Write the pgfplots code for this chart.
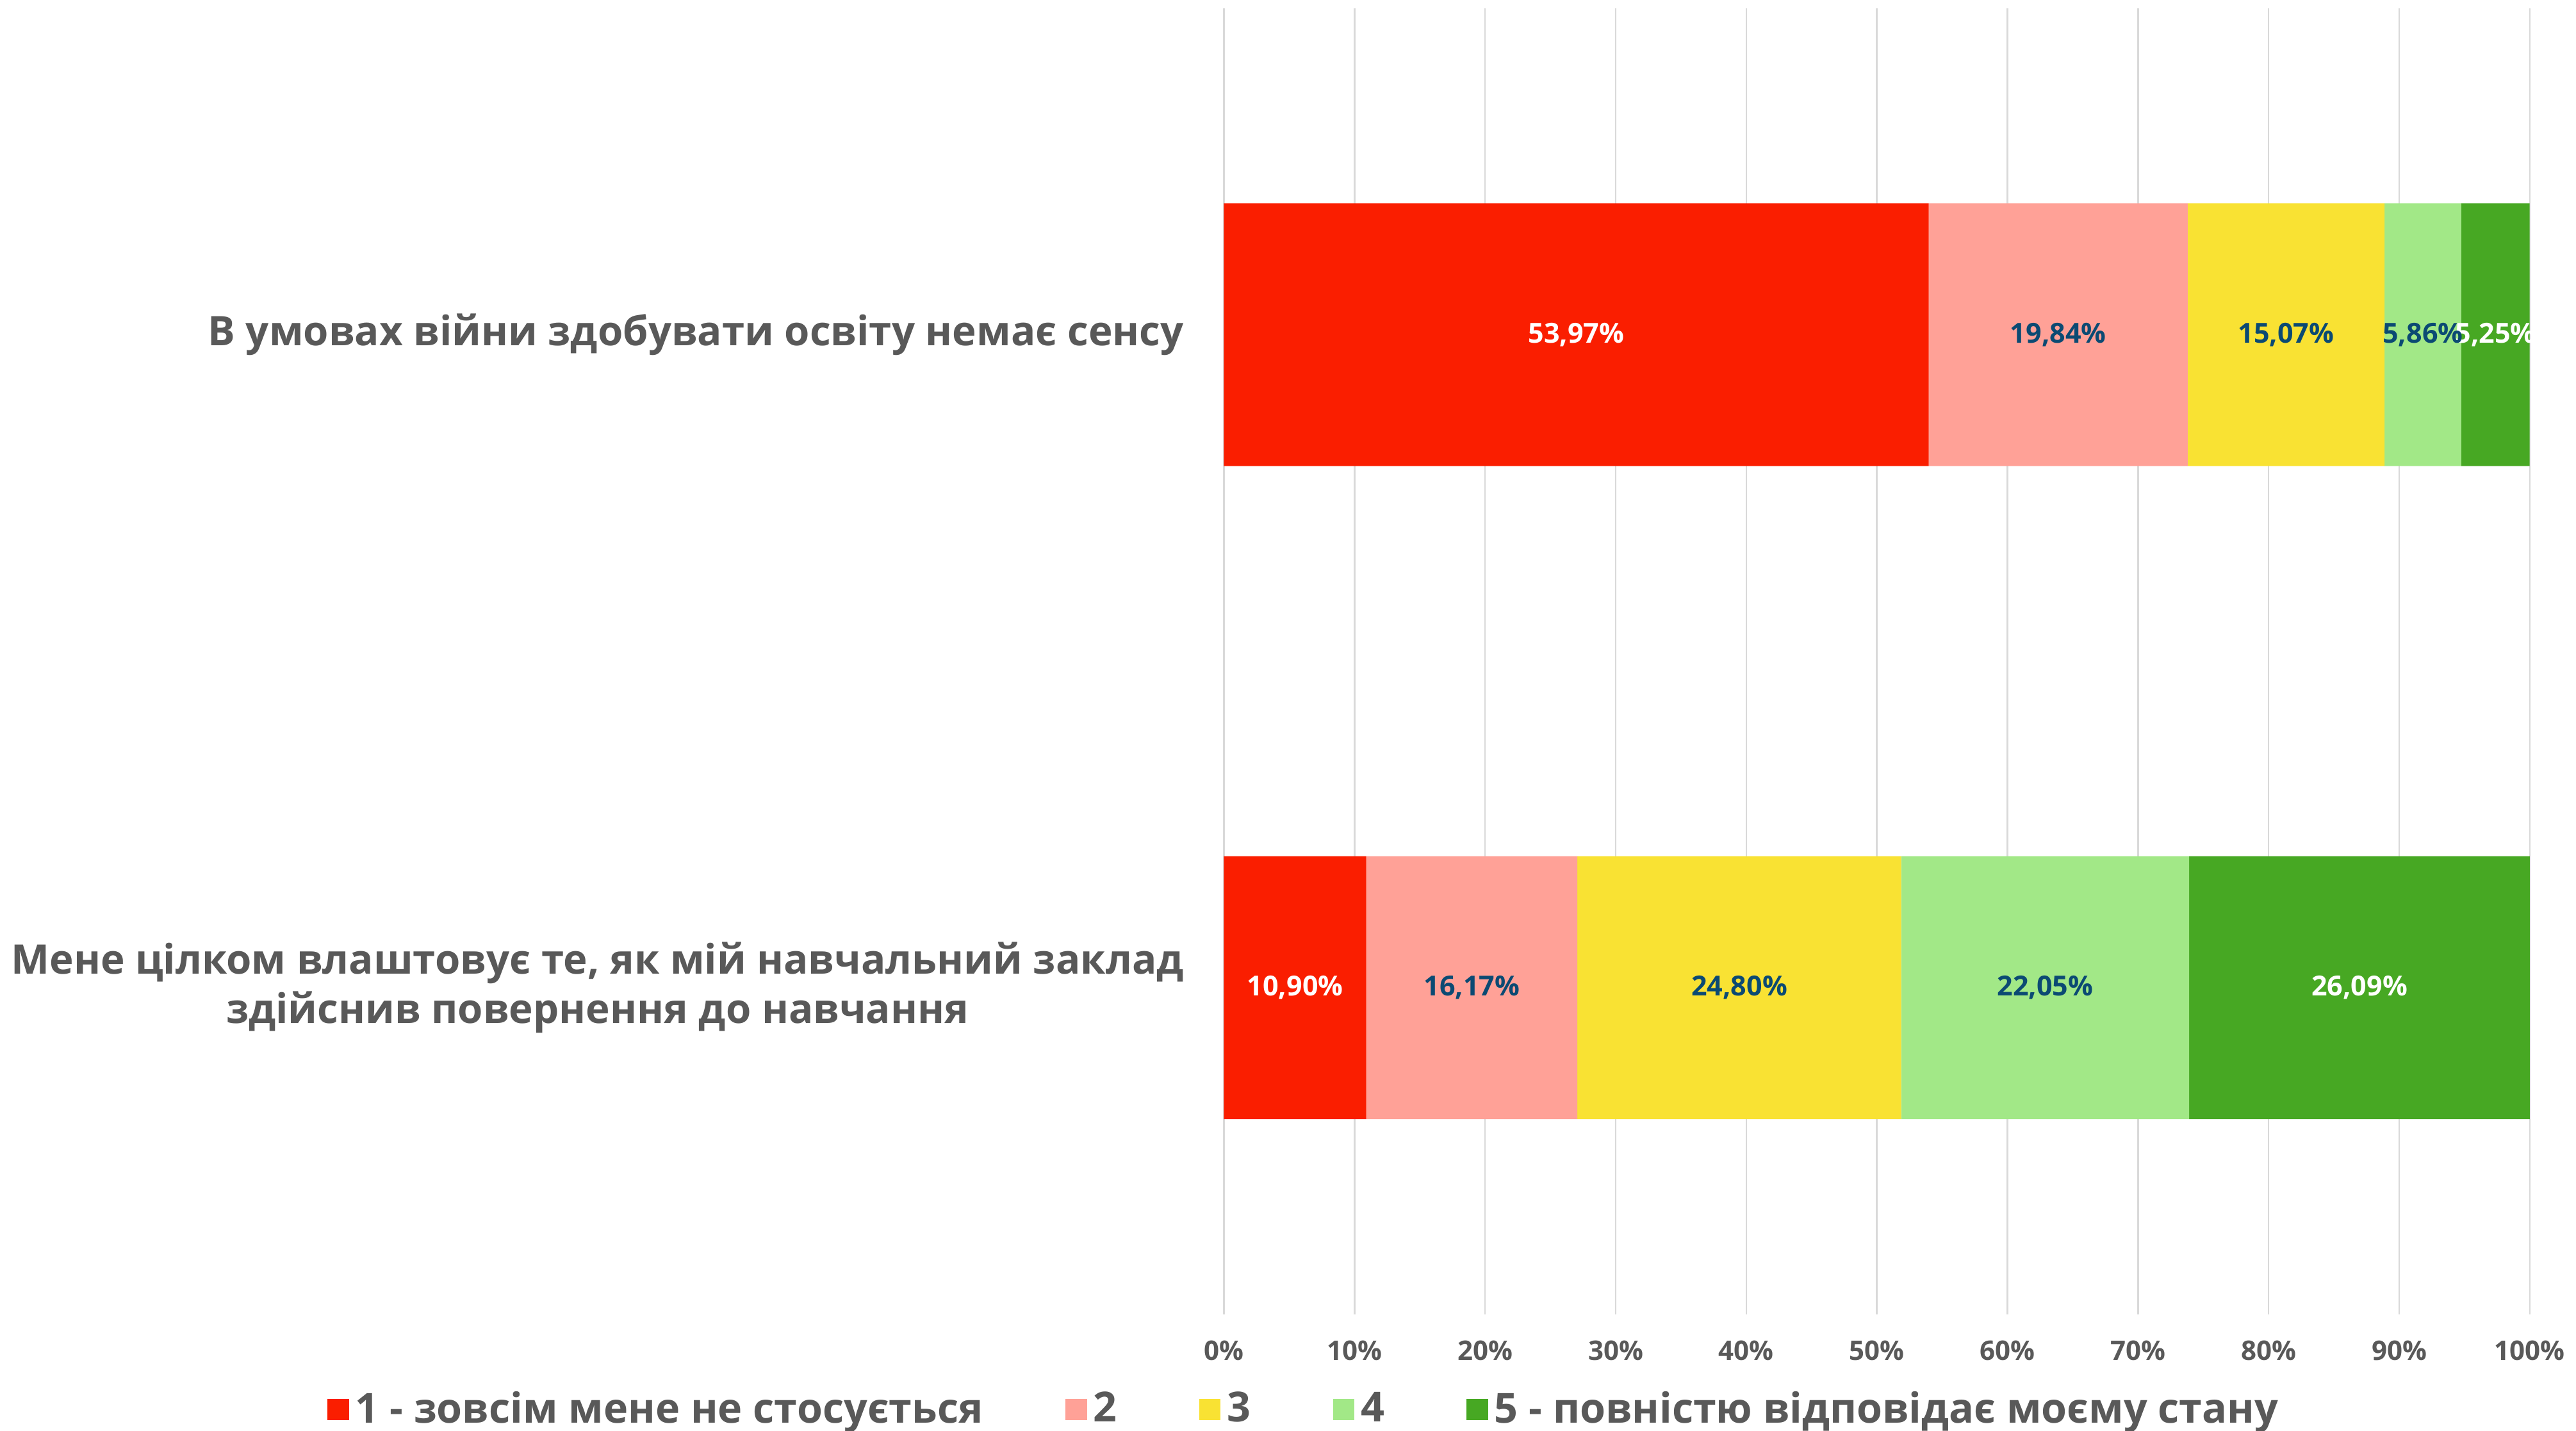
\documentclass[border=0pt]{standalone}
\usepackage{fontspec}
\setmainfont{Open Sans}
\usepackage{pgfplots}
\pgfplotsset{compat=1.18}
\definecolor{txtgray}{HTML}{595959}
\definecolor{gridgray}{HTML}{D9D9D9}
\definecolor{c1}{HTML}{FA1E00}
\definecolor{c2}{HTML}{FFA197}
\definecolor{c3}{HTML}{F9E233}
\definecolor{c4}{HTML}{A2E887}
\definecolor{c5}{HTML}{47A823}
\definecolor{lblblue}{HTML}{0B4A73}

\pgfplotsset{
  legsq/.style={legend image code/.code={\fill[##1] (0pt,-3.25pt) rectangle (6.5pt,3.25pt);}},
  lblwhite/.style={every node near coord/.append style={text=white}},
  lblblue/.style={every node near coord/.append style={text=lblblue}},
}

\begin{document}
\begin{tikzpicture}
\begin{axis}[
  name=ax,
  xbar stacked,
  scale only axis,
  width=397.5pt, height=397.5pt,
  bar width=80pt,
  xmin=0, xmax=100.02,
  ymin=-0.5, ymax=1.5,
  y dir=reverse,
  enlargelimits=false,
  clip=false,
  axis line style={draw=none},
  major tick length=0pt,
  xtick={0,10,...,100},
  xticklabels={0\%,10\%,20\%,30\%,40\%,50\%,60\%,70\%,80\%,90\%,100\%},
  xticklabel style={font=\fontsize{8.2}{10}\selectfont\bfseries, text=txtgray, yshift=-4.5pt},
  ytick={0,1},
  yticklabels={{В умовах війни здобувати освіту немає сенсу},
               {Мене цілком влаштовує те, як мій навчальний заклад\\здійснив повернення до навчання}},
  yticklabel style={font=\fontsize{12.4}{15}\selectfont\bfseries, text=txtgray, align=center, inner sep=0pt, xshift=-12pt},
  xmajorgrids,
  grid style={gridgray, line width=0.5pt},
  /pgf/number format/assume math mode=true,
  point meta=explicit,
  nodes near coords={\pgfmathprintnumber[fixed,fixed zerofill,precision=2,use comma]{\pgfplotspointmeta}\%},
  every node near coord/.append style={anchor=center,
    font=\fontsize{8.4}{10}\selectfont\bfseries},
  legend columns=-1,
  legend style={at={(0.063,-0.073)}, anchor=center, draw=none,
    font=\fontsize{12.6}{15}\selectfont\bfseries, text=txtgray,
    /tikz/every even column/.append style={column sep=23pt}},
]
\addplot[draw=none, fill=c1, legsq, lblwhite] coordinates {(53.97,0) [53.97] (10.90,1) [10.90]};
\addplot[draw=none, fill=c2, legsq, lblblue] coordinates {(19.84,0) [19.84] (16.17,1) [16.17]};
\addplot[draw=none, fill=c3, legsq, lblblue] coordinates {(15.07,0) [15.07] (24.80,1) [24.80]};
\addplot[draw=none, fill=c4, legsq, lblblue] coordinates {(5.86,0) [5.86] (22.05,1) [22.05]};
\addplot[draw=none, fill=c5, legsq, lblwhite] coordinates {(5.25,0) [5.25] (26.09,1) [26.09]};
\legend{1 - зовсім мене не стосується, 2, 3, 4, 5 - повністю відповідає моєму стану}
\end{axis}
\pgfresetboundingbox
\path (ax.south west) ++(-372.5pt,-35.5pt) rectangle ++(784pt,435.5pt);
\end{tikzpicture}
\end{document}
